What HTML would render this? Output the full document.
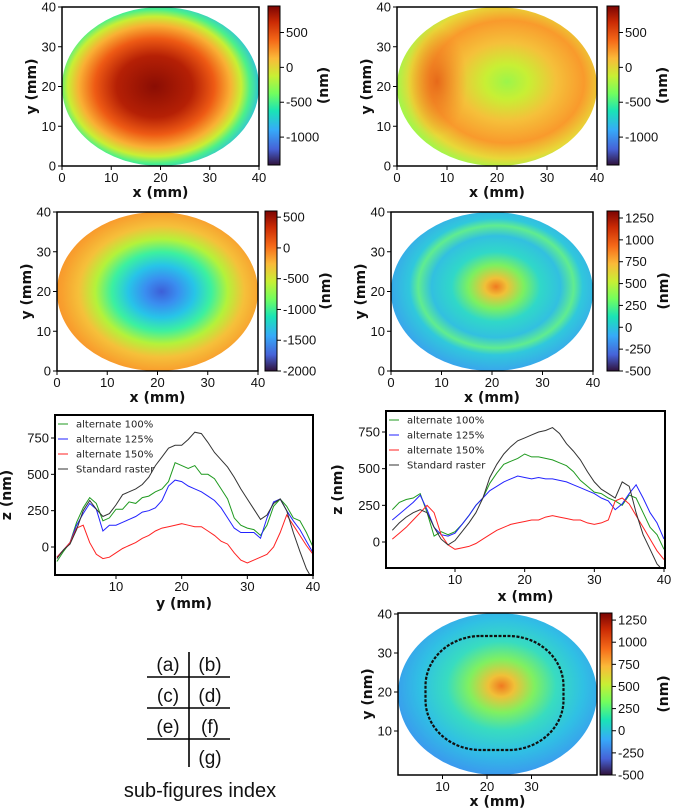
<!DOCTYPE html>
<html><head><meta charset="utf-8">
<style>
html,body{margin:0;padding:0;background:#fff;}
svg{display:block;font-family:"Liberation Sans",sans-serif;}
.t{font-size:13px;fill:#111;}
.lab{font-size:14px;font-weight:bold;fill:#111;font-family:"DejaVu Sans","Liberation Sans",sans-serif;}
.lg{font-size:10px;fill:#222;font-family:"DejaVu Sans","Liberation Sans",sans-serif;}
</style></head>
<body>
<svg id="fig" width="685" height="811" viewBox="0 0 685 811">
<defs>
<linearGradient id="cbar" x1="0" y1="1" x2="0" y2="0">
<stop offset="0" stop-color="#30123b"/><stop offset="0.1" stop-color="#4662d7"/><stop offset="0.22" stop-color="#36aaf9"/><stop offset="0.34" stop-color="#1ae4b6"/><stop offset="0.45" stop-color="#72fe5e"/><stop offset="0.56" stop-color="#c8ef34"/><stop offset="0.67" stop-color="#faba39"/><stop offset="0.78" stop-color="#f66b19"/><stop offset="0.9" stop-color="#ca2a04"/><stop offset="1" stop-color="#7a0403"/>
</linearGradient>
<radialGradient id="ga" cx="0.47" cy="0.5" r="0.55">
<stop offset="0" stop-color="#8a0d04"/><stop offset="0.35" stop-color="#b52005"/><stop offset="0.55" stop-color="#ee5a14"/><stop offset="0.7" stop-color="#f9b034"/><stop offset="0.8" stop-color="#c8ef34"/><stop offset="0.88" stop-color="#4cf08a"/><stop offset="1" stop-color="#29b5ee"/>
</radialGradient>
<radialGradient id="gb" cx="0.55" cy="0.47" r="0.55">
<stop offset="0" stop-color="#9cf54a"/><stop offset="0.2" stop-color="#c8ef34"/><stop offset="0.45" stop-color="#f5c03a"/><stop offset="0.7" stop-color="#f99a2c"/><stop offset="0.88" stop-color="#e8d838"/><stop offset="1" stop-color="#a6f54a"/>
</radialGradient>
<radialGradient id="gb2" cx="0.5" cy="0.5" r="0.5">
<stop offset="0" stop-color="#e25a14" stop-opacity="0.8"/><stop offset="1" stop-color="#f08020" stop-opacity="0"/>
</radialGradient>
<radialGradient id="gc" cx="0.52" cy="0.5" r="0.55">
<stop offset="0" stop-color="#3d5fd8"/><stop offset="0.15" stop-color="#3a8ef0"/><stop offset="0.3" stop-color="#27c4e8"/><stop offset="0.45" stop-color="#3cf0a0"/><stop offset="0.6" stop-color="#b4f23a"/><stop offset="0.75" stop-color="#f5c03a"/><stop offset="0.9" stop-color="#f8a02e"/><stop offset="1" stop-color="#f7902a"/>
</radialGradient>
<radialGradient id="gd" cx="0.52" cy="0.47" r="0.55">
<stop offset="0" stop-color="#f07a20"/><stop offset="0.1" stop-color="#f0c038"/><stop offset="0.25" stop-color="#7cf060"/><stop offset="0.4" stop-color="#30d8c8"/><stop offset="0.58" stop-color="#32c0e0"/><stop offset="0.7" stop-color="#60ec90"/><stop offset="0.78" stop-color="#30c8dc"/><stop offset="1" stop-color="#3aa0ee"/>
</radialGradient>
<radialGradient id="gg" cx="0.52" cy="0.45" r="0.55">
<stop offset="0" stop-color="#f07a20"/><stop offset="0.12" stop-color="#f0c038"/><stop offset="0.3" stop-color="#80f060"/><stop offset="0.5" stop-color="#38dcc0"/><stop offset="0.75" stop-color="#30c0e4"/><stop offset="1" stop-color="#3a9aee"/>
</radialGradient>
</defs>
<g id="root"></g>
<g stroke="#000" stroke-width="1.6">
<line x1="189" y1="652" x2="189" y2="767"/>
<line x1="147" y1="677" x2="230" y2="677"/>
<line x1="147" y1="708" x2="230" y2="708"/>
<line x1="147" y1="739" x2="230" y2="739"/>
</g>
<g font-size="19" fill="#111" text-anchor="middle" font-family="Liberation Sans, sans-serif">
<text x="168" y="671">(a)</text>
<text x="210" y="671">(b)</text>
<text x="168" y="702">(c)</text>
<text x="210" y="702">(d)</text>
<text x="168" y="733">(e)</text>
<text x="210" y="733">(f)</text>
<text x="210" y="764">(g)</text>
<text x="200" y="797" font-size="20">sub-figures index</text>
</g>
</svg>
<script>
// ---- line chart data ----
const xs = [1,2,3,4,5,6,7,8,9,10,11,12,13,14,15,16,17,18,19,20,21,22,23,24,25,26,27,28,29,30,31,32,33,34,35,36,37,38,39,40];
const eBlack = [-80,-20,20,120,250,320,260,210,230,290,360,380,400,430,480,560,620,680,700,700,740,790,780,720,650,600,550,480,400,330,260,190,220,300,330,250,100,-30,-150,-230];
const eGreen = [-100,-30,30,170,270,340,300,180,200,260,260,310,300,340,350,380,400,450,580,560,540,560,500,500,470,400,330,200,150,130,120,80,150,280,330,280,200,180,100,0];
const eBlue = [-70,-20,30,150,230,300,260,110,150,150,170,190,210,240,250,270,320,420,460,450,420,400,380,350,320,270,200,130,100,100,100,60,200,310,330,250,180,120,40,-40];
const eRed = [-70,-20,30,130,150,30,-50,-80,-70,-40,-10,10,30,60,80,110,130,140,150,160,150,140,140,110,80,40,20,-40,-90,-110,-90,-70,-50,0,100,220,150,80,10,-50];
const fBlack = [80,130,170,200,220,200,100,20,-20,10,70,130,200,300,440,530,600,650,690,710,730,750,760,780,740,670,620,560,480,410,360,330,300,410,380,200,50,-50,-150,-200];
const fGreen = [220,270,290,300,330,200,40,70,50,70,120,180,250,300,400,470,530,550,570,600,580,580,570,560,540,520,480,420,380,340,330,300,280,250,320,300,200,100,50,-50];
const fBlue = [150,190,230,270,320,220,100,50,40,60,120,180,250,300,350,380,410,430,450,440,430,440,430,430,420,410,390,370,350,330,300,280,220,260,330,390,300,200,130,20];
const fRed = [20,60,100,150,200,250,200,50,-20,-50,-40,-30,-10,20,50,80,100,120,130,140,150,150,170,180,170,160,150,150,130,120,130,150,280,300,260,180,100,20,-60,-120];
const legendNames = ["alternate 100%","alternate 125%","alternate 150%","Standard raster"];
const zTicks = [0,250,500,750];
const xTicksLine = [10,20,30,40];
const mmTicks = [0,10,20,30,40];

const NS="http://www.w3.org/2000/svg";
const root=document.getElementById('root');
function mk(tag,attrs,parent){const e=document.createElementNS(NS,tag);for(const k in attrs)e.setAttribute(k,attrs[k]);(parent||root).appendChild(e);return e;}
function txt(s,x,y,cls,anchor,parent){const t=mk('text',{x:x,y:y,class:cls,'text-anchor':anchor||'middle'},parent);t.textContent=s;return t;}

// ---- heatmap panels ----
function heat(p){
  const g=mk('g',{});
  
  
  const sx=v=>p.x0+(v-p.xmin)*(p.x1-p.x0)/(p.xmax-p.xmin);
  const sy=v=>p.yz-v*(p.yz-p.y40)/40;
  const cx=(p.bx0+p.bx1)/2, cy=(p.by0+p.by1)/2;
  const el=mk('ellipse',{cx:cx,cy:cy,rx:(p.bx1-p.bx0)/2,ry:(p.by1-p.by0)/2,fill:'url(#'+p.grad+')'},g);
  
  
  if(p.extra)p.extra(g,cx,cy);
  const box=mk('rect',{x:p.bx0,y:p.by0,width:p.bx1-p.bx0,height:p.by1-p.by0,fill:'none',stroke:'#000','stroke-width':1.5},g);
  
  
  p.xt.forEach(v=>{const X=sx(v);mk('line',{x1:X,y1:p.by1,x2:X,y2:p.by1+4,stroke:'#000'},g);const t=txt(String(v),X,p.by1+16,'t','middle',g);
    
    });
  p.yt.forEach(v=>{const Y=sy(v);mk('line',{x1:p.bx0-4,y1:Y,x2:p.bx0,y2:Y,stroke:'#000'},g);const t=txt(String(v),p.bx0-6,Y+4.5,'t','end',g);
    
    });
  const xl=txt('x (mm)',(p.bx0+p.bx1)/2,p.by1+31,'lab','middle',g);
  
  
  const yl=txt(p.ylab||'y (mm)',0,0,'lab','middle',g);
  yl.setAttribute('transform','translate('+(p.bx0-26)+','+((p.by0+p.by1)/2)+') rotate(-90)');
  
  
  const cb=mk('rect',{x:p.cbx,y:p.cby0,width:12,height:p.cby1-p.cby0,fill:'url(#cbar)',stroke:'#000','stroke-width':1},g);
  
  
  const cs=v=>p.cby1-(v-p.cmin)*(p.cby1-p.cby0)/(p.cmax-p.cmin);
  p.ct.forEach(v=>{const Y=cs(v);mk('line',{x1:p.cbx+12,y1:Y,x2:p.cbx+16,y2:Y,stroke:'#000'},g);const t=txt(String(v),p.cbx+18,Y+4.5,'t','start',g);
    
    });
  const cl=txt('(nm)',0,0,'lab','middle',g);
  cl.setAttribute('transform','translate('+p.clx+','+((p.cby0+p.cby1)/2)+') rotate(-90)');
  
  
}
heat({name:'panel-a',grad:'ga',bx0:62,bx1:259,by0:7,by1:166,x0:62,x1:259,xmin:0,xmax:40,yz:166,y40:7,xt:mmTicks,yt:mmTicks,
  cbx:268,cby0:6,cby1:165,cmin:-1400,cmax:880,ct:[500,0,-500,-1000],clx:328});
heat({name:'panel-b',grad:'gb',bx0:397,bx1:597,by0:7,by1:166,x0:397,x1:597,xmin:0,xmax:40,yz:166,y40:7,xt:mmTicks,yt:mmTicks,
  cbx:607,cby0:6,cby1:165,cmin:-1400,cmax:880,ct:[500,0,-500,-1000],clx:667,
  extra:(g,cx,cy)=>{mk('ellipse',{cx:cx-60,cy:cy-5,rx:30,ry:55,fill:'url(#gb2)'},g);}});
heat({name:'panel-c',grad:'gc',bx0:57,bx1:258,by0:212,by1:371,x0:57,x1:258,xmin:0,xmax:40,yz:371,y40:212,xt:mmTicks,yt:mmTicks,
  cbx:265,cby0:211,cby1:371,cmin:-2000,cmax:600,ct:[500,0,-500,-1000,-1500,-2000],clx:330});
heat({name:'panel-d',grad:'gd',bx0:391,bx1:593,by0:212,by1:371,x0:391,x1:593,xmin:0,xmax:40,yz:371,y40:212,xt:mmTicks,yt:mmTicks,
  cbx:607,cby0:211,cby1:371,cmin:-500,cmax:1330,ct:[1250,1000,750,500,250,0,-250,-500],clx:668});
heat({name:'panel-g',grad:'gg',bx0:398,bx1:597,by0:613,by1:775,x0:398,x1:576,xmin:0,xmax:40,yz:770,y40:614,xt:[10,20,30],yt:[10,20,30,40],ylab:'y (nm)',
  cbx:600,cby0:613,cby1:775,cmin:-500,cmax:1330,ct:[1250,1000,750,500,250,0,-250,-500],clx:668,
  extra:(g,cx,cy)=>{const r=mk('rect',{x:cx-72,y:cy-58,width:138,height:114,rx:55,ry:50,fill:'none',stroke:'#111','stroke-width':2.2,'stroke-dasharray':'3 1.5'},g);
    
    }});

// ---- line panels ----
function linePanel(p){
  const g=mk('g',{});
  
  
  const sx=v=>p.px0+(v-10)*(p.px40-p.px0)/30;
  const sy=v=>p.py0-v*(p.py0-p.py750)/750;
  const cp=mk('clipPath',{id:'clip-'+p.name},g);
  mk('rect',{x:p.bx0,y:p.by0,width:p.bx1-p.bx0,height:p.by1-p.by0},cp);
  const series=[[p.s[0],'#1f9a1f'],[p.s[1],'#2222ff'],[p.s[2],'#ff2222'],[p.s[3],'#333333']];
  const sg=mk('g',{'clip-path':'url(#clip-'+p.name+')'},g);
  const nm=['series-alternate-100','series-alternate-125','series-alternate-150','series-standard-raster'];
  series.forEach((s,i)=>{
    const d=xs.map((x,j)=>(j?'L':'M')+sx(x).toFixed(1)+','+sy(s[0][j]).toFixed(1)).join('');
    const path=mk('path',{d:d,fill:'none',stroke:s[1],'stroke-width':1},sg);
    
    
  });
  const box=mk('rect',{x:p.bx0,y:p.by0,width:p.bx1-p.bx0,height:p.by1-p.by0,fill:'none',stroke:'#000','stroke-width':2},g);
  
  
  xTicksLine.forEach(v=>{const X=sx(v);mk('line',{x1:X,y1:p.by1,x2:X,y2:p.by1+4,stroke:'#000'},g);const t=txt(String(v),X,p.by1+16,'t','middle',g);
    
    });
  zTicks.forEach(v=>{const Y=sy(v);mk('line',{x1:p.bx0-4,y1:Y,x2:p.bx0,y2:Y,stroke:'#000'},g);const t=txt(String(v),p.bx0-6,Y+4.5,'t','end',g);
    
    });
  const xl=txt(p.xlab,(p.bx0+p.bx1)/2,p.by1+33,'lab','middle',g);
  
  
  const yl=txt('z (nm)',0,0,'lab','middle',g);
  yl.setAttribute('transform','translate('+(p.bx0-44)+','+((p.by0+p.by1)/2)+') rotate(-90)');
  
  
  legendNames.forEach((n,i)=>{const Y=p.by0+9+i*15;
    const ln=mk('line',{x1:p.bx0+3,y1:Y,x2:p.bx0+13,y2:Y,stroke:series[i][1],'stroke-width':1},g);
    
    
    const t=txt(n,p.bx0+21,Y+3.5,'lg','start',g);
    
    });
}
linePanel({name:'panel-e',bx0:55,bx1:313,by0:415,by1:575,px0:116,px40:313,py0:547,py750:438,xlab:'y (mm)',s:[eGreen,eBlue,eRed,eBlack]});
linePanel({name:'panel-f',bx0:386,bx1:665,by0:411,by1:568,px0:455,px40:664,py0:542,py750:432,xlab:'x (mm)',s:[fGreen,fBlue,fRed,fBlack]});
</script>
</body></html>
